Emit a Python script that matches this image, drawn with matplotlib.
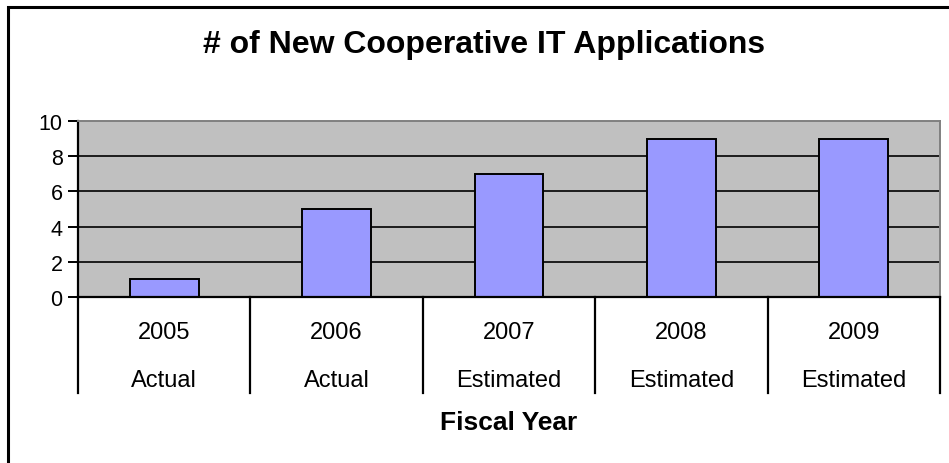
import matplotlib
matplotlib.use("Agg")
import matplotlib.pyplot as plt
from matplotlib.patches import Rectangle
import matplotlib.transforms as mtransforms

years = ["2005", "2006", "2007", "2008", "2009"]
status = ["Actual", "Actual", "Estimated", "Estimated", "Estimated"]
values = [1, 5, 7, 9, 9]
yticks = [0, 2, 4, 6, 8, 10]
title = "# of New Cooperative IT Applications"
xlabel = "Fiscal Year"

plt.rcParams['font.family'] = ['Liberation Sans', 'DejaVu Sans']

W, H = 949, 464
fig = plt.figure(figsize=(W / 100, H / 100), dpi=100)
fig.patch.set_facecolor("white")

# outer frame (left & top visible)
fig.patches.append(Rectangle((7.5 / W, -0.1), 1.2, 1 - 7.5 / H + 0.1, transform=fig.transFigure,
                             fill=False, edgecolor="black", linewidth=2.2))

left, right, top, bottom = 78, 940, 122, 298
ax = fig.add_axes([left / W, 1 - bottom / H, (right - left) / W, (bottom - top) / H])
ax.set_facecolor("#C0C0C0")

x = list(range(len(values)))
ax.bar(x, values, width=0.4, color="#9999FF", edgecolor="black", linewidth=1.4, zorder=3)

ax.set_xlim(-0.5, len(values) - 0.5)
ax.set_ylim(0, 10)
ax.set_yticks(yticks)
ax.set_yticklabels([str(t) for t in yticks], fontsize=15.5)
ax.tick_params(axis="y", length=7, width=1.4, direction="out", pad=4)
ax.set_xticks([])
for t in yticks[1:-1]:
    ax.axhline(t, color="black", linewidth=1.2, zorder=1)

for s in ["top", "right"]:
    ax.spines[s].set_color("#808080")
    ax.spines[s].set_linewidth(1.4)
for s in ["left", "bottom"]:
    ax.spines[s].set_color("black")
    ax.spines[s].set_linewidth(1.6)
ax.spines["bottom"].set_zorder(4)

trans = mtransforms.blended_transform_factory(ax.transData, ax.transAxes)
sep_bottom = -(394 - 298) / (bottom - top)
for b in [i - 0.5 for i in range(len(values) + 1)]:
    ax.plot([b, b], [0, sep_bottom], transform=trans, color="black", linewidth=1.6, clip_on=False)

row1 = -(333 - 298) / (bottom - top)
row2 = -(381 - 298) / (bottom - top)
for i, (yr, st) in enumerate(zip(years, status)):
    ax.text(i, row1, yr, transform=trans, ha="center", va="center", fontsize=17)
    ax.text(i, row2, st, transform=trans, ha="center", va="center", fontsize=17)

fig.text((left + right) / 2 / W, 1 - 423 / H, xlabel, ha="center", va="center",
         fontsize=19, fontweight="bold")
fig.text(484 / W, 1 - 45 / H, title, ha="center", va="center", fontsize=23, fontweight="bold")

fig.savefig("out.png", dpi=100, facecolor="white")
